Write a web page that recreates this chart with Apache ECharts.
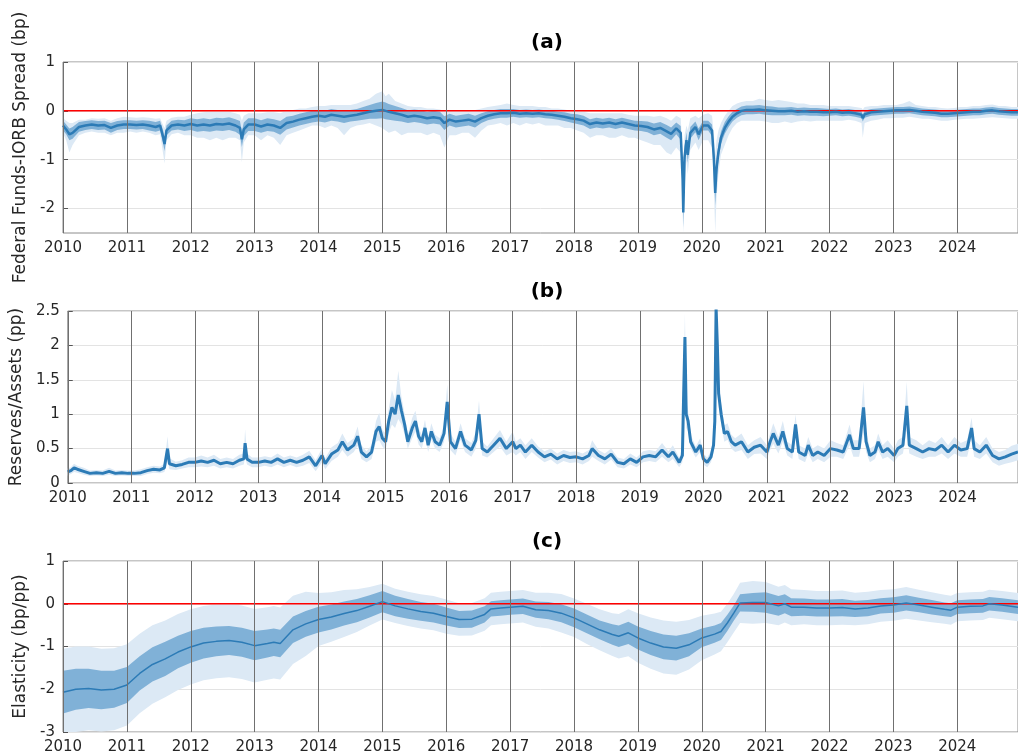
<!DOCTYPE html>
<html><head><meta charset="utf-8">
<script src="https://cdn.jsdelivr.net/npm/echarts@6/dist/echarts.min.js"></script>
<style>html,body{margin:0;padding:0;background:#fff}#c{width:1018px;height:756px}</style>
</head><body><div id="c"></div>
<script>
// ---------- Panel (a): Federal Funds-IORB spread (bp) ----------
const aYears = [
 2010.00,2010.05,2010.10,2010.15,2010.25,2010.35,2010.45,2010.55,2010.65,2010.75,2010.85,2010.95,
 2011.05,2011.15,2011.25,2011.35,2011.45,2011.52,2011.57,2011.59,2011.62,2011.70,2011.80,2011.90,
 2012.00,2012.10,2012.20,2012.30,2012.40,2012.50,2012.60,2012.70,2012.77,2012.80,2012.83,2012.90,
 2013.00,2013.10,2013.20,2013.30,2013.40,2013.50,2013.60,2013.70,2013.80,2013.90,
 2014.00,2014.10,2014.20,2014.30,2014.40,2014.50,2014.60,2014.70,2014.80,2014.90,
 2015.00,2015.05,2015.10,2015.20,2015.30,2015.40,2015.50,2015.60,2015.70,2015.80,2015.90,2015.97,
 2016.05,2016.15,2016.25,2016.35,2016.45,2016.55,2016.65,2016.75,2016.85,2016.95,
 2017.05,2017.15,2017.25,2017.35,2017.45,2017.55,2017.65,2017.75,2017.85,2017.95,
 2018.05,2018.15,2018.25,2018.35,2018.45,2018.55,2018.65,2018.75,2018.85,2018.95,
 2019.05,2019.15,2019.25,2019.35,2019.45,2019.52,2019.60,2019.67,2019.70,2019.71,2019.73,2019.76,2019.78,2019.82,2019.90,2019.95,
 2020.02,2020.10,2020.16,2020.19,2020.21,2020.23,2020.26,2020.30,2020.36,2020.42,2020.48,2020.55,2020.62,2020.70,2020.80,2020.90,
 2021.00,2021.10,2021.20,2021.30,2021.40,2021.50,2021.60,2021.70,2021.80,2021.90,
 2022.00,2022.10,2022.20,2022.30,2022.40,2022.50,2022.52,2022.55,2022.65,2022.75,2022.85,2022.95,
 2023.05,2023.15,2023.25,2023.35,2023.45,2023.55,2023.65,2023.75,2023.85,2023.95,
 2024.05,2024.15,2024.25,2024.35,2024.45,2024.55,2024.65,2024.75,2024.85,2024.95
];
const aMed = [
 -0.30,-0.38,-0.48,-0.45,-0.33,-0.30,-0.28,-0.30,-0.29,-0.35,-0.30,-0.28,
 -0.28,-0.29,-0.28,-0.30,-0.33,-0.30,-0.55,-0.68,-0.40,-0.30,-0.28,-0.30,
 -0.27,-0.30,-0.28,-0.30,-0.27,-0.28,-0.26,-0.30,-0.35,-0.58,-0.38,-0.28,
 -0.28,-0.32,-0.28,-0.30,-0.35,-0.25,-0.22,-0.18,-0.15,-0.12,
 -0.10,-0.12,-0.08,-0.10,-0.12,-0.10,-0.08,-0.05,-0.02,0.00,
 0.02,0.00,-0.02,-0.05,-0.08,-0.12,-0.10,-0.12,-0.15,-0.13,-0.15,-0.25,
 -0.18,-0.22,-0.20,-0.18,-0.22,-0.15,-0.10,-0.07,-0.05,-0.05,
 -0.04,-0.06,-0.05,-0.06,-0.05,-0.07,-0.08,-0.10,-0.12,-0.15,
 -0.17,-0.20,-0.27,-0.24,-0.26,-0.24,-0.27,-0.24,-0.27,-0.30,
 -0.31,-0.33,-0.38,-0.35,-0.42,-0.47,-0.36,-0.45,-1.40,-2.08,-0.95,-0.60,-0.90,-0.45,-0.33,-0.48,
 -0.30,-0.30,-0.40,-1.00,-1.68,-1.20,-0.85,-0.55,-0.35,-0.22,-0.12,-0.05,0.00,0.02,0.02,0.03,
 0.01,0.00,-0.01,-0.01,0.00,-0.02,-0.01,-0.02,-0.02,-0.03,
 -0.03,-0.02,-0.04,-0.03,-0.05,-0.08,-0.15,-0.07,-0.03,-0.02,-0.01,0.00,
 0.01,0.01,0.02,0.00,-0.02,-0.03,-0.04,-0.06,-0.06,-0.05,
 -0.04,-0.03,-0.02,-0.02,0.00,0.01,-0.01,-0.02,-0.03,-0.03
];
const aIn = [
 0.10,0.10,0.12,0.12,0.10,0.09,0.09,0.09,0.09,0.10,0.09,0.09,
 0.09,0.09,0.09,0.10,0.10,0.10,0.14,0.14,0.10,0.10,0.10,0.11,
 0.12,0.13,0.13,0.13,0.13,0.13,0.13,0.13,0.14,0.16,0.14,0.13,
 0.13,0.13,0.13,0.13,0.14,0.13,0.12,0.12,0.12,0.12,
 0.12,0.12,0.12,0.12,0.13,0.12,0.12,0.13,0.14,0.16,
 0.17,0.17,0.16,0.15,0.14,0.13,0.13,0.13,0.13,0.13,0.13,0.14,
 0.12,0.12,0.12,0.12,0.12,0.10,0.09,0.09,0.09,0.09,
 0.08,0.08,0.08,0.08,0.08,0.08,0.08,0.08,0.09,0.09,
 0.10,0.10,0.10,0.10,0.10,0.10,0.10,0.10,0.10,0.10,
 0.10,0.11,0.12,0.12,0.13,0.13,0.12,0.14,0.30,0.30,0.22,0.16,0.16,0.12,0.11,0.12,
 0.10,0.10,0.12,0.25,0.25,0.22,0.16,0.13,0.12,0.11,0.10,0.09,0.09,0.09,0.09,0.09,
 0.09,0.09,0.08,0.08,0.08,0.08,0.08,0.08,0.08,0.08,
 0.07,0.07,0.07,0.07,0.07,0.07,0.07,0.07,0.07,0.07,0.07,0.07,
 0.07,0.07,0.07,0.07,0.07,0.07,0.07,0.07,0.07,0.07,
 0.07,0.07,0.07,0.07,0.07,0.07,0.07,0.07,0.07,0.07
];
const aLo = [
 -0.45,-0.60,-0.85,-0.70,-0.50,-0.45,-0.42,-0.45,-0.45,-0.50,-0.45,-0.45,
 -0.42,-0.45,-0.42,-0.45,-0.50,-0.48,-0.90,-1.08,-0.60,-0.48,-0.45,-0.50,
 -0.50,-0.55,-0.55,-0.60,-0.55,-0.60,-0.55,-0.55,-0.60,-1.05,-0.65,-0.50,
 -0.50,-0.60,-0.50,-0.55,-0.70,-0.50,-0.45,-0.40,-0.35,-0.30,
 -0.30,-0.35,-0.30,-0.35,-0.50,-0.35,-0.30,-0.28,-0.25,-0.30,
 -0.35,-0.40,-0.45,-0.40,-0.50,-0.45,-0.45,-0.45,-0.50,-0.45,-0.50,-0.75,
 -0.50,-0.50,-0.45,-0.45,-0.55,-0.40,-0.30,-0.28,-0.25,-0.30,
 -0.25,-0.30,-0.25,-0.28,-0.25,-0.30,-0.30,-0.30,-0.35,-0.35,
 -0.40,-0.45,-0.55,-0.50,-0.50,-0.55,-0.55,-0.50,-0.55,-0.55,
 -0.60,-0.65,-0.70,-0.70,-0.85,-0.90,-0.75,-0.85,-2.10,-2.60,-1.60,-1.00,-1.30,-0.80,-0.65,-0.80,
 -0.60,-0.60,-0.75,-1.60,-2.50,-1.80,-1.30,-0.90,-0.70,-0.50,-0.35,-0.25,-0.20,-0.20,-0.20,-0.20,
 -0.22,-0.25,-0.25,-0.22,-0.25,-0.22,-0.20,-0.22,-0.20,-0.20,
 -0.20,-0.20,-0.20,-0.18,-0.20,-0.25,-0.55,-0.25,-0.20,-0.18,-0.15,-0.15,
 -0.14,-0.14,-0.12,-0.14,-0.16,-0.16,-0.18,-0.20,-0.20,-0.18,
 -0.17,-0.16,-0.16,-0.15,-0.14,-0.13,-0.14,-0.15,-0.16,-0.16
];
const aHi = [
 -0.15,-0.20,-0.25,-0.25,-0.18,-0.18,-0.15,-0.16,-0.15,-0.20,-0.15,-0.12,
 -0.13,-0.14,-0.13,-0.14,-0.16,-0.15,-0.30,-0.35,-0.20,-0.14,-0.12,-0.12,
 -0.08,-0.05,-0.03,-0.02,-0.02,-0.02,-0.02,-0.05,-0.08,-0.20,-0.10,-0.05,
 -0.05,-0.05,-0.03,-0.03,-0.05,0.00,0.02,0.05,0.05,0.08,
 0.10,0.10,0.12,0.12,0.12,0.12,0.15,0.20,0.25,0.35,
 0.40,0.30,0.35,0.20,0.15,0.10,0.08,0.08,0.05,0.05,0.03,0.00,
 0.02,0.00,0.00,0.02,0.02,0.05,0.08,0.10,0.12,0.15,
 0.12,0.10,0.10,0.10,0.08,0.08,0.05,0.05,0.03,0.00,
 0.00,-0.02,-0.05,-0.05,-0.05,-0.05,-0.05,-0.05,-0.08,-0.10,
 -0.10,-0.10,-0.12,-0.10,-0.15,-0.20,-0.10,-0.15,-0.80,-1.20,-0.50,-0.30,-0.40,-0.15,-0.10,-0.15,
 -0.08,-0.05,-0.10,-0.50,-0.90,-0.60,-0.40,-0.25,-0.10,0.00,0.10,0.15,0.18,0.20,0.20,0.25,
 0.22,0.20,0.22,0.20,0.18,0.15,0.15,0.12,0.12,0.12,
 0.10,0.10,0.10,0.10,0.08,0.06,0.03,0.08,0.10,0.10,0.12,0.12,
 0.12,0.15,0.20,0.12,0.10,0.08,0.08,0.06,0.05,0.06,
 0.08,0.08,0.10,0.10,0.12,0.13,0.10,0.10,0.08,0.08
];

// ---------- Panel (b): Reserves/Assets (pp) ----------
const bYears = [
 2010.00,2010.05,2010.10,2010.15,2010.25,2010.35,2010.45,2010.55,2010.65,2010.75,2010.85,2010.95,
 2011.05,2011.15,2011.25,2011.35,2011.45,2011.52,2011.57,2011.60,2011.70,2011.80,2011.90,
 2012.00,2012.10,2012.20,2012.30,2012.40,2012.50,2012.60,2012.70,2012.77,2012.79,2012.82,2012.90,
 2013.00,2013.10,2013.20,2013.30,2013.40,2013.50,2013.60,2013.70,2013.80,2013.90,
 2014.00,2014.05,2014.15,2014.25,2014.32,2014.40,2014.50,2014.56,2014.62,2014.70,2014.78,2014.85,2014.90,2014.95,
 2015.00,2015.05,2015.10,2015.15,2015.20,2015.25,2015.30,2015.35,2015.42,2015.47,2015.52,2015.57,2015.62,2015.67,2015.72,2015.78,2015.85,2015.92,2015.97,
 2016.02,2016.10,2016.18,2016.25,2016.35,2016.42,2016.47,2016.52,2016.60,2016.70,2016.80,2016.90,
 2017.00,2017.05,2017.12,2017.20,2017.30,2017.40,2017.50,2017.60,2017.70,2017.80,2017.90,
 2018.00,2018.10,2018.20,2018.25,2018.35,2018.45,2018.55,2018.65,2018.75,2018.85,2018.95,
 2019.05,2019.15,2019.25,2019.35,2019.45,2019.52,2019.62,2019.67,2019.69,2019.71,2019.73,2019.76,2019.80,2019.88,2019.95,
 2020.00,2020.06,2020.12,2020.16,2020.18,2020.20,2020.22,2020.24,2020.28,2020.33,2020.38,2020.44,2020.50,2020.60,2020.70,2020.80,2020.90,
 2021.00,2021.05,2021.10,2021.18,2021.25,2021.32,2021.40,2021.45,2021.50,2021.60,2021.65,2021.72,2021.80,2021.90,
 2022.00,2022.10,2022.20,2022.30,2022.36,2022.45,2022.52,2022.56,2022.62,2022.70,2022.75,2022.82,2022.90,
 2023.00,2023.06,2023.14,2023.20,2023.24,2023.35,2023.45,2023.55,2023.65,2023.75,2023.85,2023.95,
 2024.05,2024.15,2024.22,2024.26,2024.35,2024.45,2024.55,2024.65,2024.75,2024.85,2024.95
];
const bMed = [
 0.16,0.18,0.22,0.20,0.17,0.14,0.15,0.14,0.17,0.14,0.15,0.14,
 0.14,0.15,0.18,0.20,0.19,0.22,0.50,0.28,0.25,0.27,0.30,
 0.30,0.32,0.30,0.33,0.28,0.30,0.28,0.33,0.35,0.58,0.35,0.30,
 0.30,0.32,0.30,0.35,0.30,0.33,0.30,0.33,0.38,0.25,
 0.40,0.28,0.42,0.48,0.60,0.48,0.55,0.68,0.45,0.38,0.45,0.75,0.82,0.65,
 0.60,0.90,1.10,1.00,1.28,1.05,0.85,0.60,0.80,0.90,0.68,0.60,0.80,0.55,0.75,0.60,0.55,0.72,1.18,
 0.60,0.50,0.75,0.55,0.48,0.62,1.00,0.50,0.45,0.55,0.65,0.50,
 0.60,0.50,0.55,0.45,0.55,0.45,0.38,0.42,0.35,0.40,0.37,
 0.38,0.35,0.40,0.50,0.40,0.35,0.42,0.30,0.28,0.35,0.30,
 0.38,0.40,0.38,0.48,0.38,0.45,0.30,0.40,1.30,2.12,1.00,0.90,0.60,0.45,0.55,
 0.35,0.30,0.38,0.55,0.90,2.55,2.00,1.30,1.00,0.72,0.75,0.60,0.55,0.60,0.45,0.52,0.55,
 0.45,0.60,0.72,0.55,0.75,0.50,0.45,0.85,0.45,0.40,0.55,0.40,0.45,0.40,
 0.50,0.48,0.45,0.70,0.50,0.50,1.10,0.60,0.40,0.45,0.60,0.45,0.50,
 0.40,0.50,0.55,1.12,0.55,0.50,0.45,0.50,0.48,0.55,0.45,0.55,
 0.48,0.50,0.80,0.50,0.45,0.55,0.40,0.35,0.38,0.42,0.45
];
const bOut = [
 0.05,0.05,0.06,0.05,0.05,0.04,0.04,0.04,0.05,0.04,0.04,0.04,
 0.04,0.05,0.05,0.05,0.05,0.06,0.18,0.08,0.06,0.06,0.07,
 0.07,0.08,0.07,0.08,0.07,0.07,0.07,0.08,0.08,0.20,0.08,0.07,
 0.07,0.07,0.07,0.08,0.07,0.07,0.07,0.08,0.09,0.08,
 0.10,0.08,0.10,0.10,0.12,0.10,0.10,0.14,0.10,0.08,0.10,0.15,0.20,0.12,
 0.12,0.18,0.25,0.20,0.35,0.20,0.15,0.10,0.15,0.15,0.12,0.10,0.12,0.10,0.12,0.10,0.10,0.12,0.25,
 0.12,0.10,0.12,0.10,0.10,0.12,0.20,0.10,0.08,0.10,0.12,0.10,
 0.15,0.10,0.10,0.10,0.10,0.08,0.08,0.08,0.08,0.08,0.08,
 0.08,0.08,0.08,0.12,0.08,0.08,0.08,0.07,0.07,0.08,0.07,
 0.08,0.08,0.08,0.10,0.08,0.10,0.07,0.10,0.30,0.35,0.20,0.15,0.10,0.08,0.10,
 0.08,0.07,0.08,0.10,0.15,0.30,0.30,0.20,0.15,0.12,0.12,0.10,0.10,0.12,0.10,0.10,0.12,
 0.10,0.12,0.15,0.12,0.15,0.10,0.10,0.15,0.10,0.10,0.12,0.10,0.10,0.10,
 0.12,0.10,0.10,0.15,0.12,0.12,0.38,0.15,0.10,0.10,0.12,0.10,0.12,
 0.10,0.12,0.12,0.35,0.12,0.12,0.10,0.12,0.10,0.12,0.10,0.12,
 0.10,0.12,0.15,0.12,0.10,0.12,0.10,0.10,0.10,0.12,0.12
];

// ---------- Panel (c): Elasticity (bp/pp) ----------
const cYears = [
 2010.0,2010.2,2010.4,2010.6,2010.8,
 2011.0,2011.2,2011.4,2011.6,2011.8,
 2012.0,2012.2,2012.4,2012.6,2012.8,
 2013.0,2013.2,2013.3,2013.4,2013.6,2013.8,
 2014.0,2014.2,2014.4,2014.6,2014.8,
 2015.0,2015.2,2015.4,2015.6,2015.8,
 2016.0,2016.2,2016.4,2016.6,2016.7,2016.85,
 2017.0,2017.2,2017.4,2017.6,2017.8,
 2018.0,2018.2,2018.4,2018.6,2018.7,2018.85,
 2019.0,2019.2,2019.4,2019.6,2019.8,
 2020.0,2020.2,2020.3,2020.4,2020.5,2020.6,2020.8,
 2021.0,2021.2,2021.3,2021.4,2021.6,2021.8,
 2022.0,2022.2,2022.4,2022.6,2022.8,
 2023.0,2023.2,2023.4,2023.6,2023.8,2023.9,
 2024.0,2024.2,2024.4,2024.5,2024.7,2024.95
];
const cMed = [
 -2.07,-2.00,-1.98,-2.02,-2.00,
 -1.90,-1.63,-1.42,-1.29,-1.13,
 -1.01,-0.92,-0.88,-0.86,-0.90,
 -0.98,-0.93,-0.90,-0.93,-0.61,-0.47,
 -0.37,-0.31,-0.23,-0.16,-0.06,
 0.05,-0.05,-0.12,-0.18,-0.22,
 -0.30,-0.37,-0.36,-0.25,-0.12,-0.10,
 -0.08,-0.06,-0.14,-0.16,-0.22,
 -0.33,-0.47,-0.61,-0.72,-0.76,-0.68,
 -0.80,-0.92,-1.01,-1.04,-0.96,
 -0.80,-0.71,-0.65,-0.45,-0.22,0.02,0.03,
 0.03,-0.05,0.00,-0.08,-0.08,-0.10,
 -0.10,-0.09,-0.12,-0.10,-0.05,
 -0.03,0.02,-0.03,-0.08,-0.13,-0.15,
 -0.08,-0.06,-0.05,0.00,-0.03,-0.08
];
const cIn = [
 0.50,0.48,0.46,0.45,0.43,
 0.42,0.40,0.40,0.40,0.38,
 0.37,0.36,0.35,0.34,0.34,
 0.34,0.33,0.32,0.32,0.31,0.30,
 0.30,0.29,0.28,0.27,0.26,
 0.25,0.24,0.23,0.22,0.22,
 0.21,0.20,0.20,0.19,0.18,0.18,
 0.18,0.18,0.19,0.20,0.21,
 0.22,0.22,0.22,0.24,0.25,0.26,
 0.27,0.28,0.29,0.29,0.27,
 0.22,0.20,0.20,0.19,0.18,0.20,0.22,
 0.24,0.23,0.22,0.21,0.20,0.20,
 0.20,0.20,0.19,0.19,0.18,
 0.18,0.18,0.17,0.17,0.16,0.16,
 0.16,0.16,0.16,0.16,0.16,0.16
];
const cOut = [
 1.02,1.00,0.98,0.97,0.96,
 0.95,0.93,0.92,0.90,0.89,
 0.88,0.87,0.86,0.86,0.86,
 0.86,0.85,0.85,0.84,0.80,0.75,
 0.62,0.58,0.55,0.50,0.45,
 0.42,0.40,0.40,0.40,0.40,
 0.40,0.38,0.38,0.38,0.38,0.38,
 0.38,0.38,0.40,0.42,0.45,
 0.45,0.47,0.48,0.50,0.52,0.55,
 0.58,0.60,0.62,0.62,0.58,
 0.52,0.48,0.46,0.45,0.45,0.47,0.50,
 0.48,0.45,0.44,0.42,0.40,0.40,
 0.40,0.40,0.38,0.38,0.37,
 0.37,0.37,0.36,0.35,0.34,0.34,
 0.33,0.33,0.33,0.33,0.33,0.33
];

// ---------- Labels ----------
const panelTitles = ['(a)', '(b)', '(c)'];
const yNames = ['Federal Funds-IORB Spread (bp)', 'Reserves/Assets (pp)', 'Elasticity (bp/pp)'];
const yTicks = [[-2, -1, 0, 1], [0, 0.5, 1, 1.5, 2, 2.5], [-3, -2, -1, 0, 1]];
const yRanges = [[-2.5, 1], [0, 2.5], [-3, 1]];
const X_MIN = 2010, X_MAX = 2024.95;

function checkLen(name, ref, arrs) {
  arrs.forEach((a, i) => { if (a.length !== ref.length) throw new Error(name + ' array ' + i + ' length ' + a.length + ' vs ' + ref.length); });
}
checkLen('a', aYears, [aMed, aIn, aLo, aHi]);
checkLen('b', bYears, [bMed, bOut]);
checkLen('c', cYears, [cMed, cIn, cOut]);

// ---------- Styling ----------
const FONT = 'DejaVu Sans';
const TXT = '#262626';
const MED = '#2c7bb6';
const INNER = '#80b1d7';
const OUTER = '#dce9f5';
const grids = [
  {left: 63, top: 62, width: 968, height: 171},
  {left: 63, top: 311, width: 968, height: 172},
  {left: 63, top: 561, width: 968, height: 171}
];

function band(g, xs, lo, hi, color, z) {
  return {
    type: 'custom', xAxisIndex: g, yAxisIndex: g, clip: true, silent: true, z: z,
    data: xs.map((x, i) => [x, lo[i], hi[i]]),
    encode: {x: 0, y: [1, 2]},
    renderItem: function (params, api) {
      if (params.dataIndex !== 0) return null;
      const cs = params.coordSys;
      const top = [], bot = [];
      for (let i = 0; i < xs.length; i++) {
        top.push(api.coord([xs[i], hi[i]]));
        bot.push(api.coord([xs[i], lo[i]]));
      }
      const pts = top.concat(bot.reverse()).map(p => [
        Math.max(cs.x, Math.min(cs.x + cs.width, p[0])),
        Math.max(cs.y, Math.min(cs.y + cs.height, p[1]))
      ]);
      return {type: 'polygon', shape: {points: pts}, style: {fill: color, stroke: null}};
    }
  };
}
function medLine(g, xs, ys, w, z) {
  return {type: 'line', xAxisIndex: g, yAxisIndex: g, data: xs.map((x, i) => [x, ys[i]]),
    symbol: 'none', silent: true, z: z, clip: true, lineStyle: {color: MED, width: w}};
}
function zeroLine(g) {
  return {type: 'line', xAxisIndex: g, yAxisIndex: g, data: [[X_MIN, 0], [X_MAX, 0]],
    symbol: 'none', silent: true, z: 4, lineStyle: {color: '#ff0000', width: 1.5}};
}

const series = [
  band(0, aYears, aLo, aHi, OUTER, 1),
  band(0, aYears, aMed.map((m, i) => m - aIn[i]), aMed.map((m, i) => m + aIn[i]), INNER, 2),
  zeroLine(0),
  medLine(0, aYears, aMed, 2.5, 5),
  band(1, bYears, bMed.map((m, i) => m - bOut[i]), bMed.map((m, i) => m + bOut[i]), OUTER, 1),
  medLine(1, bYears, bMed, 3, 5),
  band(2, cYears, cMed.map((m, i) => m - cOut[i]), cMed.map((m, i) => m + cOut[i]), OUTER, 1),
  band(2, cYears, cMed.map((m, i) => m - cIn[i]), cMed.map((m, i) => m + cIn[i]), INNER, 2),
  zeroLine(2),
  medLine(2, cYears, cMed, 1.5, 5)
];

const option = {
  animation: false,
  backgroundColor: '#ffffff',
  title: panelTitles.map((t, i) => ({
    text: t, left: 547, top: grids[i].top - 29, textAlign: 'center', padding: 0,
    textStyle: {fontFamily: FONT, fontSize: 20, fontWeight: 'bold', color: '#000'}
  })),
  grid: grids.map(g => Object.assign({show: true, borderColor: '#8c8c8c', borderWidth: 1, backgroundColor: 'transparent'}, g)),
  xAxis: grids.map((g, i) => ({
    type: 'value', gridIndex: i, min: X_MIN, max: X_MAX, interval: 1, z: 10,
    axisLine: {show: false}, axisTick: {show: false},
    splitLine: {show: true, lineStyle: {color: '#707070', width: 1}},
    axisLabel: {fontFamily: FONT, fontSize: 15, color: TXT, margin: 8, showMaxLabel: false,
      formatter: v => Number.isInteger(v) ? String(v) : ''}
  })),
  yAxis: grids.map((g, i) => ({
    type: 'value', gridIndex: i, min: yRanges[i][0], max: yRanges[i][1], interval: 0.5,
    name: yNames[i], nameLocation: 'middle', nameGap: 26,
    nameTextStyle: {fontFamily: FONT, fontSize: 17, color: TXT},
    axisLine: {show: false},
    axisTick: {show: true, inside: true, length: 5, customValues: yTicks[i], lineStyle: {color: '#555'}},
    splitLine: {show: true, lineStyle: {color: '#e3e3e3', width: 1}},
    axisLabel: {fontFamily: FONT, fontSize: 15, color: TXT, margin: 8, customValues: yTicks[i],
      formatter: v => String(v)}
  })),
  series: series
};
const chart = echarts.init(document.getElementById('c'));
chart.setOption(option);
</script></body></html>
